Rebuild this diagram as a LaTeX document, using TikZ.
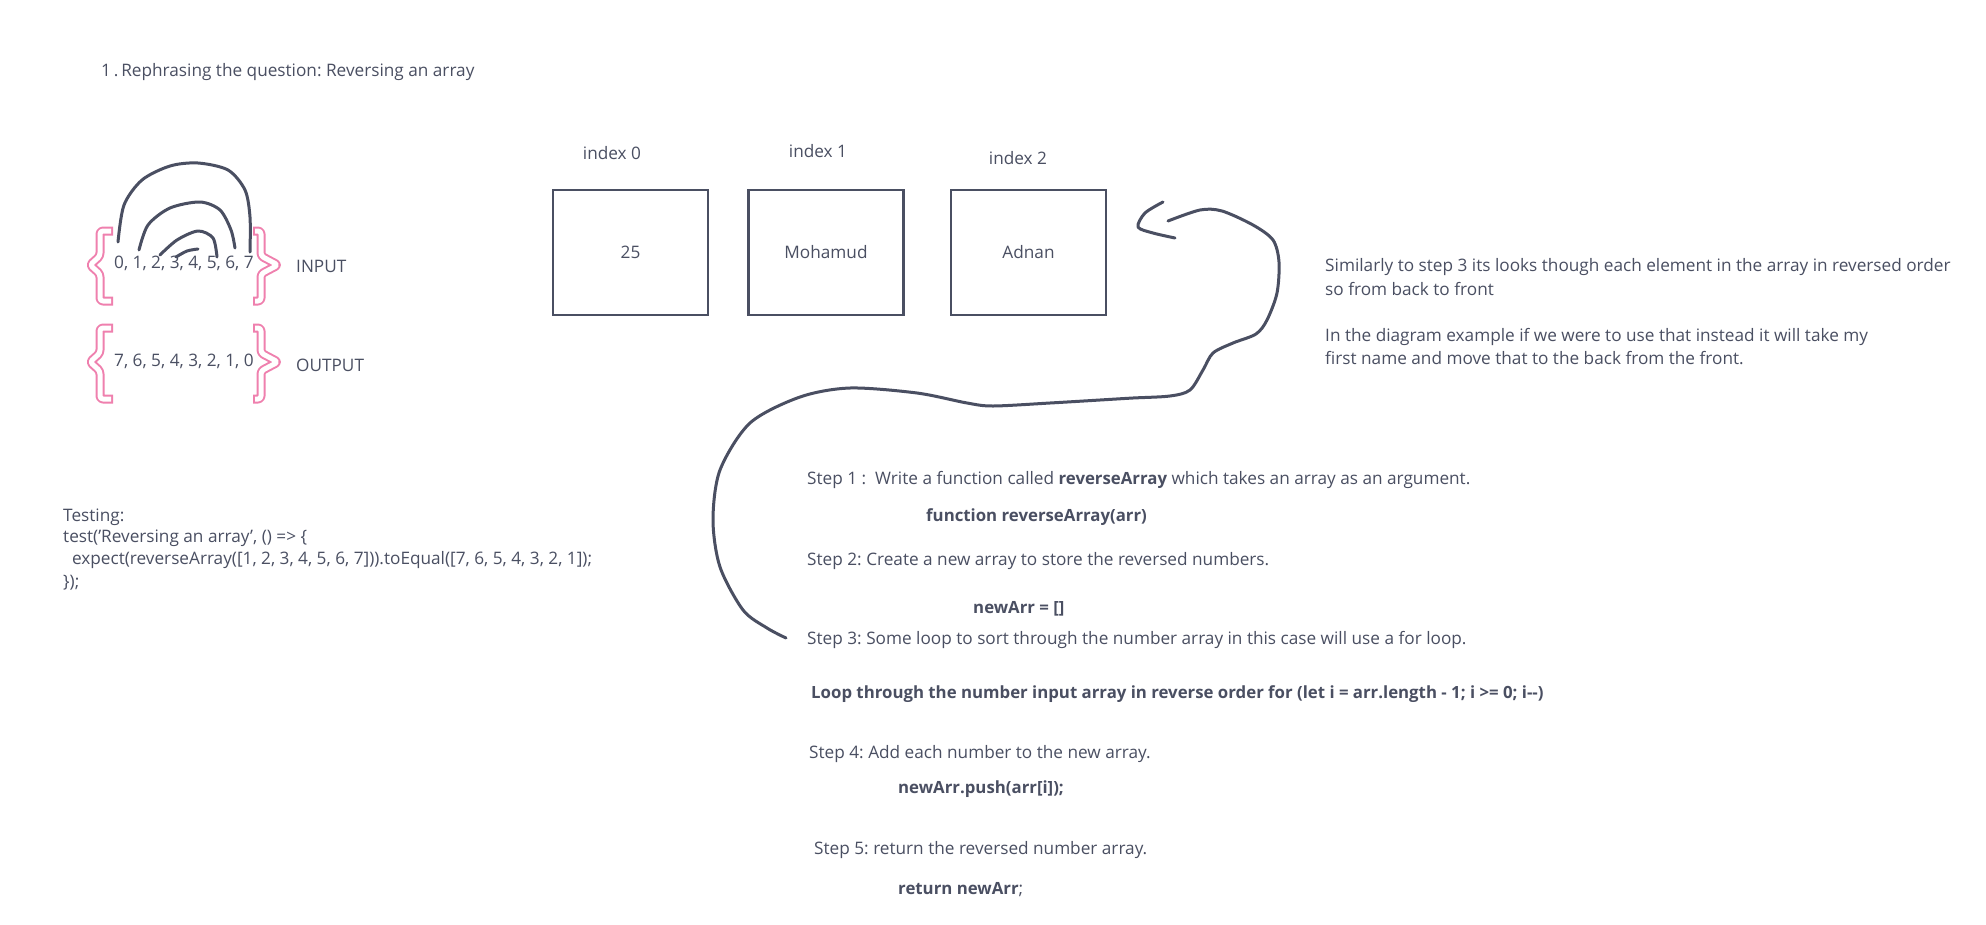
\documentclass[tikz,border=0pt]{standalone}
\usepackage{fontspec}
\setmainfont{Open Sans}
\definecolor{ink}{HTML}{4A4F62}
\definecolor{pinkb}{HTML}{EF80AE}
\newcommand{\fs}{\fontsize{17.2}{20}\selectfont}
\newcommand{\fsb}{\fontsize{16.8}{20}\selectfont\bfseries}
\frenchspacing
\tikzset{
  txt/.style={anchor=west, inner sep=0pt, text=ink, font=\fs},
  btxt/.style={txt, font=\fsb},
  ctxt/.style={anchor=center, inner sep=0pt, text=ink, font=\fs},
  cell/.style={draw=ink, line width=2.5pt, minimum width=155pt, minimum height=125pt, inner sep=0pt, text=ink, font=\fs},
  sketch/.style={draw=ink, line width=3pt, line cap=round, line join=round},
  bracepink/.style={draw=pinkb, line width=9pt, line join=round, rounded corners=3pt},
  bracewhite/.style={draw=white, line width=5pt, line join=round, rounded corners=3pt, shorten >=2pt, shorten <=2pt}
}
\begin{document}
\begin{tikzpicture}[x=1pt,y=-1pt]
\useasboundingbox[fill=white] (0,0) rectangle (1986,924);

% title
\node[txt] (title) at (101,72) {1\,.\,Rephrasing the question: Reversing an array};

% braces
\foreach \yt/\ym/\yb in {231/265/301, 328/362/399}{
  \draw[bracepink] (113,\yt) -- (100,\yt) -- (100,\ym-9) -- (90,\ym) -- (100,\ym+9) -- (100,\yb) -- (113,\yb);
  \draw[bracewhite] (113,\yt) -- (100,\yt) -- (100,\ym-9) -- (90,\ym) -- (100,\ym+9) -- (100,\yb) -- (113,\yb);
  \draw[bracepink] (253,\yt) -- (261,\yt) -- (261,\ym-9) -- (278,\ym) -- (261,\ym+9) -- (261,\yb) -- (253,\yb);
  \draw[bracewhite] (253,\yt) -- (261,\yt) -- (261,\ym-9) -- (278,\ym) -- (261,\ym+9) -- (261,\yb) -- (253,\yb);
}
\node[txt] (inarr) at (114,263) {0, 1, 2, 3, 4, 5, 6, 7};
\node[txt] (inlbl) at (296,266) {INPUT};
\node[txt] (outarr) at (114,361) {7, 6, 5, 4, 3, 2, 1, 0};
\node[txt] (outlbl) at (296,365) {OUTPUT};

% swap arcs
\draw[sketch] plot[smooth] coordinates {(118,242) (124,205) (142,180) (170,166) (198,163) (228,170) (245,190) (250,217) (250,252)};
\draw[sketch] plot[smooth] coordinates {(139,250) (148,225) (170,208) (200,202) (220,210) (231,230) (235,248)};
\draw[sketch] plot[smooth] coordinates {(160,255) (177,240) (198,231) (213,238) (217,257)};
\draw[sketch] plot[smooth] coordinates {(176,257) (187,251) (198,249)};

% array cells
\node[cell] (c0) at (630.5,252.5) {25};
\node[cell] (c1) at (826,252.5) {Mohamud};
\node[cell] (c2) at (1028.5,252.5) {Adnan};
\node[ctxt] (i0) at (612,153) {index 0};
\node[ctxt] (i1) at (818,151) {index 1};
\node[ctxt] (i2) at (1018,158) {index 2};

% long sketch arrow
\draw[sketch] plot[smooth] coordinates {(1163,202) (1145,213) (1138,227) (1153,233) (1175,238)};
\draw[sketch] plot[smooth] coordinates {(1168,221) (1200,210) (1222,211) (1253,225) (1273,240) (1279,262) (1277,293) (1267,320) (1256,334) (1233,343) (1213,353) (1203,370) (1190,390) (1170,396) (1133,398) (1100,400) (1050,403) (993,406) (967,403) (917,393) (850,388) (800,397) (750,423) (720,470) (713,520) (720,567) (743,610) (767,628) (786,638)};

% right paragraph
\node[txt] (p1) at (1325,267) {Similarly to step 3 its looks though each element in the array in reversed order};
\node[txt] (p2) at (1325,289) {so from back to front};
\node[txt] (p3) at (1325,337) {In the diagram example if we were to use that instead it will take my};
\node[txt] (p4) at (1325,358) {first name and move that to the back from the front.};

% steps
\node[txt] (s1) at (807,480) {Step 1 :\ \ Write a function called {\fsb reverseArray} which takes an array as an argument.};
\node[btxt] (s1c) at (926,517) {function reverseArray(arr)};
\node[txt] (s2) at (807,561) {Step 2: Create a new array to store the reversed numbers.};
\node[btxt] (s2c) at (973,609) {newArr = []};
\node[txt] (s3) at (807,640) {Step 3: Some loop to sort through the number array in this case will use a for loop.};
\node[btxt] (s3c) at (811,694) {Loop through the number input array in reverse order for (let i = arr.length - 1; i >= 0; i-{}-)};
\node[txt] (s4) at (809,754) {Step 4: Add each number to the new array.};
\node[btxt] (s4c) at (898,789) {newArr.push(arr[i]);};
\node[txt] (s5) at (814,850) {Step 5: return the reversed number array.};
\node[txt] (s5c) at (898,890) {{\fsb return newArr};};

% testing
\node[txt] (t1) at (63,517) {Testing:};
\node[txt] (t2) at (63,538) {test('Reversing an array', () => \{};
\node[txt] (t3) at (63,560) {\ \ expect(reverseArray([1, 2, 3, 4, 5, 6, 7])).toEqual([7, 6, 5, 4, 3, 2, 1]);};
\node[txt] (t4) at (63,583) {\});};
\end{tikzpicture}
\end{document}
